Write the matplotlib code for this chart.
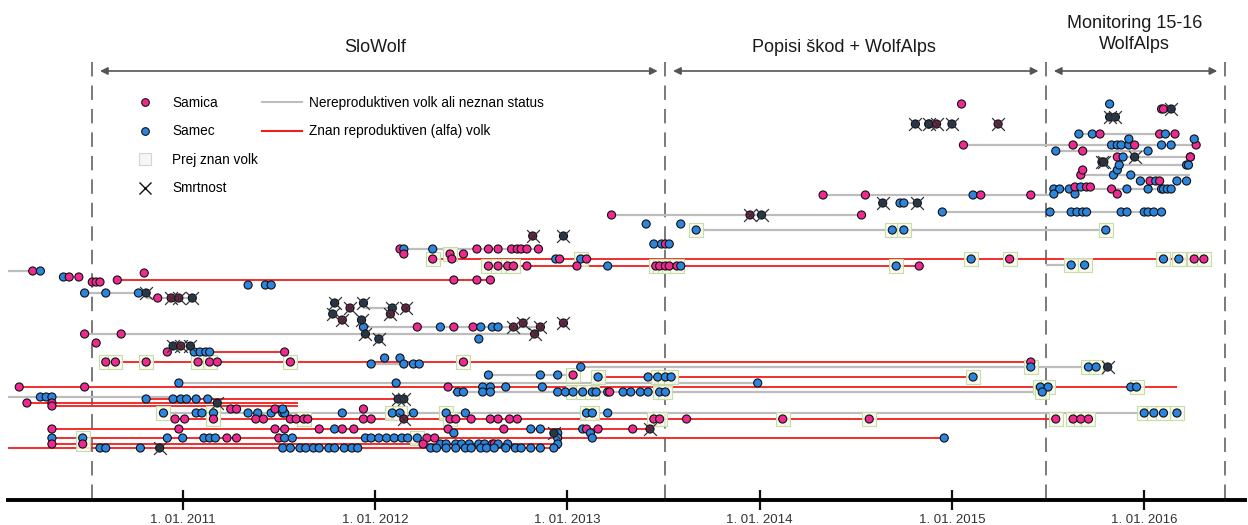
import matplotlib
matplotlib.use("Agg")
import matplotlib.pyplot as plt
from matplotlib.lines import Line2D

plt.rcParams['font.family'] = ['Liberation Sans', 'DejaVu Sans']

# ---------------------------------------------------------------- phases / axis
phase_bounds = [2010.53, 2013.51, 2015.49, 2016.42]
phase_names = ["SloWolf", "Popisi škod + WolfAlps", "Monitoring 15-16\nWolfAlps"]
phase_label_year = [2012.00, 2014.44, 2015.95]
tick_years = [2011, 2012, 2013, 2014, 2015, 2016]
tick_labels = [f"1. 01. {y}" for y in tick_years]

# ---------------------------------------------------------------- wolf tracks
# level: vertical position of the individual's track (top = 0)
# kind:  'g' non-reproductive / unknown, 'r' known breeder, 'n' no line
# span:  first and last date covered by the line (decimal years)
# dates: detections (decimal years); sex F/M; flag '.' plain, 'k' known before, 'x' death
track_level = [271, 277, 282, 280, 273, 285, 293, 298, 303, 308,
               314, 320, 327, 334, 323, 339, 343, 352, 346, 362,
               358, 364, 367, 375, 377, 383, 387, 392, 397, 399,
               403, 406, 413, 419, 409, 429, 433, 438, 444, 448,
               249, 254, 259, 266, 265, 244, 236, 230, 224, 215,
               212, 203, 195, 189, 194, 181, 175, 170, 187, 165,
               157, 162, 151, 145, 139, 134, 117, 104, 109, 124,
               104]
track_kind = ['g', 'n', 'n', 'r', 'n', 'n', 'g', 'g', 'n', 'g',
              'n', 'n', 'g', 'g', 'n', 'n', 'n', 'r', 'n', 'r',
              'n', 'g', 'g', 'g', 'r', 'g', 'r', 'g', 'g', 'r',
              'r', 'r', 'g', 'r', 'n', 'r', 'n', 'r', 'r', 'r',
              'g', 'n', 'r', 'r', 'g', 'n', 'n', 'g', 'n', 'g',
              'g', 'g', 'g', 'g', 'n', 'n', 'g', 'n', 'n', 'g',
              'g', 'n', 'g', 'g', 'n', 'g', 'n', 'n', 'n', 'n',
              'n']
track_span = [(2010.09, 2010.26), None, None, (2010.66, 2012.60), None,
              None, (2010.49, 2010.81), (2010.81, 2011.05), None, (2011.94, 2012.09),
              None, None, (2011.95, 2012.85), (2010.49, 2012.82), None,
              None, None, (2011.10, 2011.53), None, (2010.60, 2015.41),
              None, (2011.98, 2012.23), (2013.05, 2015.81), (2012.59, 2013.03), (2013.16, 2015.11),
              (2010.98, 2013.99), (2010.15, 2016.17), (2012.40, 2015.50), (2010.09, 2010.99), (2010.81, 2012.15),
              (2010.19, 2011.60), (2010.32, 2011.60), (2010.90, 2016.19), (2010.96, 2015.54), None,
              (2010.32, 2013.43), None, (2010.32, 2014.96), (2010.32, 2012.95), (2010.09, 2012.96),
              (2012.13, 2012.85), None, (2012.30, 2016.32), (2012.59, 2014.83), (2015.49, 2015.69),
              None, None, (2013.67, 2015.80), None, (2013.23, 2014.53),
              (2014.95, 2016.09), (2014.73, 2014.82), (2014.33, 2015.53), (2015.53, 2016.14), None,
              None, (2015.68, 2016.24), None, None, (2015.87, 2016.22),
              (2015.86, 2016.24), None, (2015.54, 2016.02), (2015.06, 2016.27), None,
              (2015.66, 2016.16), None, None, None, None,
              None]
track_dates = [
    [2010.22, 2010.26],
    [2010.38, 2010.41, 2010.46],
    [2010.53, 2010.55, 2010.57],
    [2010.66, 2012.41, 2012.53, 2012.60],
    [2010.80],
    [2011.34, 2011.43, 2011.46],
    [2010.49, 2010.60, 2010.77, 2010.81],
    [2010.87, 2010.94, 2010.98, 2011.05],
    [2011.79, 2011.94],
    [2011.87, 2012.09, 2012.16],
    [2011.78, 2012.08],
    [2011.83, 2011.93],
    [2011.94, 2012.22, 2012.34, 2012.41, 2012.51, 2012.55, 2012.61, 2012.64, 2012.72, 2012.86],
    [2010.49, 2010.68, 2011.95, 2012.83],
    [2012.77, 2012.98],
    [2012.02, 2012.54],
    [2010.55],
    [2010.92, 2011.06, 2011.09, 2011.12, 2011.14, 2011.53],
    [2010.95, 2010.99, 2011.04],
    [2010.60, 2010.65, 2010.81, 2011.08, 2011.14, 2011.18, 2011.56, 2012.46, 2015.41],
    [2012.05, 2012.13],
    [2011.98, 2012.15, 2012.20, 2012.23],
    [2013.07, 2015.41, 2015.71, 2015.75, 2015.81],
    [2012.59, 2012.86, 2012.95, 2013.03],
    [2013.16, 2013.42, 2013.47, 2013.51, 2013.54, 2015.11],
    [2010.98, 2012.11, 2013.99],
    [2010.15, 2010.49, 2012.38, 2012.56, 2012.60, 2012.68, 2012.87, 2015.46, 2015.50, 2015.93, 2015.96],
    [2012.43, 2012.46, 2012.56, 2012.60, 2012.95, 2012.99, 2013.03, 2013.08, 2013.13, 2013.15,
     2013.21, 2013.22, 2013.29, 2013.33, 2013.38, 2013.42, 2013.48, 2013.51, 2015.47],
    [2010.26, 2010.29, 2010.32],
    [2010.81, 2010.95, 2010.99, 2011.02, 2011.07, 2011.13, 2012.12, 2012.15],
    [2010.19, 2010.32, 2011.18],
    [2010.32],
    [2010.90, 2011.07, 2011.10, 2011.16, 2011.34, 2011.39, 2011.46, 2011.52, 2011.53, 2011.83,
     2012.09, 2012.13, 2012.20, 2012.37, 2012.47, 2013.10, 2013.13, 2013.21, 2016.00, 2016.05,
     2016.10, 2016.17],
    [2010.96, 2011.01, 2011.16, 2011.38, 2011.42, 2011.56, 2011.59, 2011.63, 2011.65, 2011.94,
     2011.98, 2012.15, 2012.39, 2012.42, 2012.50, 2012.60, 2012.64, 2012.70, 2012.74, 2013.45,
     2013.48, 2013.62, 2014.12, 2014.57, 2015.54, 2015.63, 2015.67, 2015.71],
    [2011.25, 2011.28, 2011.48, 2011.52, 2011.94],
    [2010.32, 2010.98, 2011.48, 2011.53, 2011.71, 2011.79, 2011.83, 2011.89, 2012.38, 2012.67,
     2012.81, 2012.86, 2013.08, 2013.10, 2013.16, 2013.34, 2013.43],
    [2012.41, 2012.93, 2012.95, 2013.12],
    [2010.32, 2010.48, 2010.92, 2011.00, 2011.11, 2011.14, 2011.17, 2011.23, 2011.28, 2011.50,
     2011.53, 2011.57, 2011.95, 2011.98, 2012.02, 2012.06, 2012.10, 2012.14, 2012.17, 2012.22,
     2012.27, 2012.31, 2012.95, 2013.13, 2014.96],
    [2010.32, 2010.48, 2012.25, 2012.34, 2012.37, 2012.42, 2012.45, 2012.49, 2012.54, 2012.57,
     2012.61, 2012.62, 2012.64, 2012.69, 2012.95],
    [2010.57, 2010.60, 2010.78, 2010.88, 2011.52, 2011.56, 2011.61, 2011.64, 2011.68, 2011.71,
     2011.76, 2011.79, 2011.84, 2011.88, 2011.91, 2012.29, 2012.32, 2012.37, 2012.42, 2012.47,
     2012.50, 2012.55, 2012.58, 2012.62, 2012.68, 2012.73, 2012.76, 2012.81, 2012.86, 2012.93],
    [2012.13, 2012.15, 2012.30, 2012.53, 2012.59, 2012.64, 2012.71, 2012.74, 2012.76, 2012.79, 2012.85],
    [2012.15, 2012.39, 2012.46],
    [2012.30, 2012.40, 2012.94, 2012.96, 2013.07, 2013.10, 2015.10, 2015.30, 2016.10, 2016.18,
     2016.26, 2016.31],
    [2012.59, 2012.64, 2012.69, 2012.72, 2012.79, 2013.05, 2013.21, 2013.46, 2013.48, 2013.51,
     2013.53, 2013.57, 2013.59, 2014.71, 2014.83],
    [2015.62, 2015.69],
    [2013.45, 2013.49, 2013.51, 2013.53],
    [2012.82, 2012.98],
    [2013.67, 2014.69, 2014.75, 2015.80],
    [2013.41, 2013.59],
    [2013.23, 2013.95, 2014.01, 2014.53],
    [2014.95, 2015.51, 2015.62, 2015.65, 2015.68, 2015.70, 2015.88, 2015.91, 2016.00, 2016.02,
     2016.05, 2016.09],
    [2014.64, 2014.73, 2014.75, 2014.82],
    [2014.33, 2014.55, 2015.11, 2015.15, 2015.41],
    [2015.53, 2015.56, 2015.61, 2015.83, 2015.91, 2016.02, 2016.09, 2016.10, 2016.12, 2016.14],
    [2015.53, 2015.64, 2015.86],
    [2015.98, 2016.03, 2016.06, 2016.08, 2016.17, 2016.22],
    [2015.67, 2015.84, 2015.93],
    [2015.68, 2015.86],
    [2015.64, 2015.67, 2015.70, 2015.72],
    [2015.87, 2016.22, 2016.23],
    [2015.86, 2015.89, 2015.95, 2016.24, 2016.24],
    [2015.78, 2015.79],
    [2015.54, 2015.68, 2016.02],
    [2015.06, 2015.63, 2015.83, 2015.86, 2015.88, 2015.92, 2015.95, 2016.09, 2016.14, 2016.27],
    [2015.92, 2016.26],
    [2015.66, 2015.73, 2015.77, 2016.08, 2016.11, 2016.16],
    [2015.82, 2015.85],
    [2015.82],
    [2016.09, 2016.10, 2016.14],
    [2014.81, 2014.88, 2014.88, 2014.92, 2015.00, 2015.24],
    [2015.05],
]
track_sex = [
    "FM", "MFF", "FFF", "FFFF", "F", "MMM", "MMMM", "FFFM", "MM", "FMF",
    "MF", "FM", "MFMFFMMMFF", "FFMF", "FF", "MM", "F", "FMMMMF", "MFM", "FFFFFFFFF",
    "MM", "MMMM", "MMMMM", "MMMF", "MMMMMM", "MMM", "FFFMMMMMMMM", "MMMMMMMMMMMFMMMMMMM", "MMM", "MMMMMMMM",
    "FFM", "F", "MMMMMMMMMMMMMMMMMMMMMM", "FFFFFFFFFFFFFFFFFFFFFFFFFFFF", "FFFMF",
    "FFFFFMFFFFMMMFFFF", "MMMM", "MMMMMMMFFFMMMMMMMMMMFFMMM", "FFFMMMMMMMMFMMM",
    "MMMMMMMMMMMMMMMMMMMMMMMMMMMMMM",
    "FMMFFFFFFFF", "FFF", "FFMFMFMFMMFF", "FFFFFFMFFFFFMMF", "MM", "MMFM", "FM", "MMMM", "MM", "FFMF",
    "MMMMMMMMMMMM", "MMMM", "FFMFF", "MMMFMMMMMM", "MMF", "MFMFMM", "FMM", "FM", "FMFF", "MMM",
    "FMMFF", "MM", "MFM", "FFMMMMFMMF", "MM", "MMFFMF", "MM", "M", "FFM", "MMMFMF",
    "F",
]
track_flag = [
    "..", "...", "...", "....", ".", "...", "...x", ".xxx", "xx", "xxx",
    "xx", "xx", "........xx", "..xx", "xx", "x.", ".", "......", "xxx", "kkkkk.kk.",
    "..", "....", ".kkkx", "...k", "k.kkkk", "...", ".......kk.k", "......kkk.......kkk", "...", "......xx",
    "..x", ".", "k..k......kk.k.kk.kkkk", "..k....k...xk......kk.kkkkkk", ".....",
    "................x", ".x..", ".k.................k.....", ".k.............",
    "...x..........................",
    "...........", ".k.", "k...k.kkkkkk", "kkkk...kkkkk.k.", "kk", "....", "xx", "kkkk", "..", ".xx.",
    "............", "x..x", ".....", "..........", "...", "......", "...", "..", "....", "...",
    "..x..", "xx", "...", "..........", "..", "......", "xx", ".", "..x", "xx.xxx",
    ".",
]

# ---------------------------------------------------------------- style
FEMALE, MALE = '#ee2a90', '#2b84dd'
FEMALE_DEAD, MALE_DEAD = '#7e1d4d', '#1e3b5c'
GREY_LINE, RED_LINE = '#bdbdbd', '#f21c1c'

fig = plt.figure(figsize=(12.48, 5.25), dpi=100)
ax = fig.add_axes([0, 0, 1, 1])
ax.set_xlim(2010.05, 2010.05 + 1248 * 0.0052)
ax.set_ylim(525, 0)

# track lines
for lvl, kind, span in zip(track_level, track_kind, track_span):
    if span is None or kind == 'n':
        continue
    ax.plot(span, [lvl, lvl], color=RED_LINE if kind == 'r' else GREY_LINE,
            lw=1.3 if kind == 'r' else 1.6, solid_capstyle='butt', zorder=1)

# detections
box_x, box_y = [], []
pt_x, pt_y, pt_c = [], [], []
dead_x, dead_y, dead_c = [], [], []
for lvl, dates, sexes, flags in zip(track_level, track_dates, track_sex, track_flag):
    for d, s, f in zip(dates, sexes, flags):
        if f == 'k':
            box_x.append(d)
            box_y.append(lvl)
        if f == 'x':
            dead_x.append(d)
            dead_y.append(lvl)
            dead_c.append(FEMALE_DEAD if s == 'F' else MALE_DEAD)
        else:
            pt_x.append(d)
            pt_y.append(lvl)
            pt_c.append(FEMALE if s == 'F' else MALE)

ax.scatter(box_x, box_y, marker='s', s=95, facecolor=(0.97, 0.98, 0.93, 0.85),
           edgecolor='#c6dea6', linewidth=0.8, zorder=2)
ax.scatter(pt_x, pt_y, marker='o', s=34, c=pt_c, edgecolor='#111111',
           linewidth=0.8, zorder=3)
ax.scatter(dead_x, dead_y, marker='o', s=34, c=dead_c, edgecolor='#111111',
           linewidth=0.8, zorder=3)
ax.scatter(dead_x, dead_y, marker='x', s=85, c='#333333', linewidth=0.9, zorder=4)

# phase separators, arrows and headings
ax.vlines(phase_bounds, 62, 500, colors='#707070', linestyles=(0, (8, 5)),
          linewidth=1.3, zorder=0)
for a, b in zip(phase_bounds[:-1], phase_bounds[1:]):
    ax.annotate('', xy=(b - 0.04, 71), xytext=(a + 0.04, 71),
                arrowprops=dict(arrowstyle='<|-|>', color='#555555', lw=1.2,
                                mutation_scale=11, shrinkA=0, shrinkB=0))
for name, xc in zip(phase_names, phase_label_year):
    ax.text(xc, 48 if '\n' not in name else 34, name, ha='center', va='center',
            fontsize=13, color='#1a1a1a', linespacing=1.3)

# time axis
for side in ('top', 'left', 'right'):
    ax.spines[side].set_visible(False)
ax.spines['bottom'].set_position(('data', 500))
ax.spines['bottom'].set_linewidth(2.8)
ax.spines['bottom'].set_bounds(2010.05 + 8 * 0.0052, 2010.05 + 1245 * 0.0052)
ax.set_xticks(tick_years)
ax.set_xticklabels(tick_labels)
ax.tick_params(axis='x', direction='inout', length=14, width=1.6, pad=3,
               labelsize=9.5, labelcolor='#333333', color='#111111')
ax.yaxis.set_visible(False)

# legend
handles = [
    Line2D([], [], ls='none', marker='o', ms=5.5, mfc=FEMALE, mec='#111111', mew=0.8, label='Samica'),
    Line2D([], [], ls='none', marker='o', ms=5.5, mfc=MALE, mec='#111111', mew=0.8, label='Samec'),
    Line2D([], [], ls='none', marker='s', ms=9, mfc='#f6f6f6', mec='#d4d4d4', mew=0.8, label='Prej znan volk'),
    Line2D([], [], ls='none', marker='x', ms=8, color='#111111', mew=1.0, label='Smrtnost'),
    Line2D([], [], color=GREY_LINE, lw=1.5, label='Nereproduktiven volk ali neznan status'),
    Line2D([], [], color=RED_LINE, lw=1.5, label='Znan reproduktiven (alfa) volk'),
    Line2D([], [], ls='none', label=' '),
    Line2D([], [], ls='none', label=' '),
]
fig.legend(handles=handles, ncol=2, loc='upper left',
           bbox_to_anchor=(125 / 1248, 1 - 96 / 525), bbox_transform=fig.transFigure,
           frameon=False, fontsize=9.8, handlelength=2.95, handletextpad=0.5,
           labelspacing=1.06, columnspacing=0.3, borderpad=0, borderaxespad=0)

fig.savefig('out.png', dpi=100, facecolor='white')
